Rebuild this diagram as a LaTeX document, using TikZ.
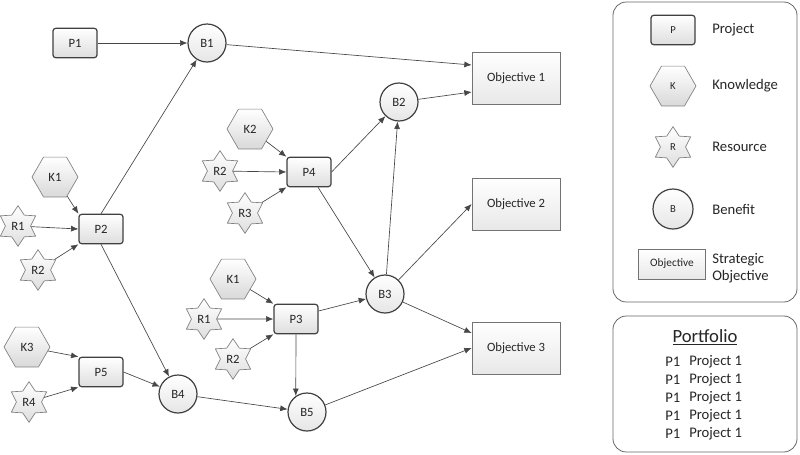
\documentclass[tikz,border=0pt]{standalone}
\usepackage{fontspec}
\setmainfont{Carlito}
\usetikzlibrary{shapes.geometric,arrows.meta,calc}
\tikzset{
  base/.style={inner sep=0pt, font=\fontsize{9.5}{11}\selectfont, text=black!85},
  proj/.style={base, rectangle, rounded corners=2pt, draw=black!75, line width=0.9pt,
    top color=white, bottom color=black!13, minimum width=33pt, minimum height=22pt},
  ben/.style={base, circle, draw=black!75, line width=0.9pt,
    top color=white, bottom color=black!10, minimum size=28.5pt},
  know/.style={base, regular polygon, regular polygon sides=6, draw=black!50, line width=0.5pt,
    top color=white, bottom color=black!15, minimum size=34.5pt},
  res/.style={base, star, star points=6, star point ratio=1.62, draw=black!50, line width=0.5pt,
    top color=white, bottom color=black!13, minimum size=30.5pt},
  obj/.style={base, rectangle, draw=black!55, line width=0.5pt,
    top color=white, bottom color=black!9, minimum width=66pt, minimum height=39pt},
  arr/.style={draw=black!72, line width=0.5pt, -{Latex[length=5.5pt,width=4.5pt]}},
  legtxt/.style={inner sep=0pt, anchor=west, font=\fontsize{11}{12.75}\selectfont, text=black!85, align=left},
  legbox/.style={draw=black!60, line width=0.6pt, rounded corners=10pt, fill=white}
}
\begin{document}
\begin{tikzpicture}[x=0.75pt, y=-0.75pt]
\useasboundingbox (0,0) rectangle (800,454);

% legend boxes
\node[legbox, minimum width=138pt, minimum height=225pt] (leg) at (705,152) {};
\node[legbox, minimum width=138pt, minimum height=102pt] (port) at (705,384) {};

% main nodes
\node[proj] (P1) at (75,43) {P1};
\node[ben] (B1) at (207,43) {B1};
\node[obj] (O1) at (516,78) {Objective 1};
\node[obj] (O2) at (516,204) {Objective 2};
\node[obj] (O3) at (516,348) {Objective 3};
\node[ben] (B2) at (399,102) {B2};
\node[ben] (B3) at (385,294) {B3};
\node[ben] (B4) at (178,394) {B4};
\node[ben] (B5) at (307,412) {B5};

\node[know] (K2) at (250,129) {K2};
\node[res] (R2b) at (220,171) {R2};
\node[res] (R3) at (245,213) {R3};
\node[proj] (P4) at (309,172) {P4};

\node[know] (K1a) at (55,177) {K1};
\node[res] (R1a) at (18,226) {R1};
\node[res] (R2a) at (38,270) {R2};
\node[proj] (P2) at (101,229) {P2};

\node[know] (K3) at (27,347) {K3};
\node[res] (R4) at (29,402) {R4};
\node[proj] (P5) at (101,372) {P5};

\node[know] (K1b) at (233,279) {K1};
\node[res] (R1b) at (204,319) {R1};
\node[res] (R2c) at (233,359) {R2};
\node[proj] (P3) at (296,319) {P3};

% connectors
\draw[arr] (P1) -- (B1);
\draw[arr] (B1) -- ($(O1.west)+(0,-13)$);
\draw[arr] (P2.north) -- (B1);
\draw[arr] (K1a) -- (P2.north west);
\draw[arr] (R1a) -- (P2.west);
\draw[arr] (R2a) -- (P2.south west);
\draw[arr] (P2.south) -- (B4);
\draw[arr] (K3) -- (P5.north west);
\draw[arr] (R4) -- (P5.south west);
\draw[arr] (P5.east) -- (B4);
\draw[arr] (B4) -- (B5);
\draw[arr] (K2) -- (P4.north west);
\draw[arr] (R2b) -- (P4.west);
\draw[arr] (R3) -- (P4.south west);
\draw[arr] (P4.east) -- (B2);
\draw[arr] ($(P4.south)+(9,0)$) -- (B3);
\draw[arr] (B3) -- (B2);
\draw[arr] (B2) -- ($(O1.west)+(0,14)$);
\draw[arr] (B3) -- (O2.west);
\draw[arr] (B3) -- ($(O3.west)+(0,-15)$);
\draw[arr] (B5) -- (O3.west);
\draw[arr] (K1b) -- (P3.north west);
\draw[arr] (R1b) -- (P3.west);
\draw[arr] (R2c) -- (P3.south west);
\draw[arr] ($(P3.east)+(0,-8)$) -- (B3);
\draw[arr] (P3.south) -- (B5.125);

% legend
\node[proj, font=\fontsize{8}{10}\selectfont] (lP) at (673,30) {P};
\node[know, font=\fontsize{8}{10}\selectfont] (lK) at (673,86) {K};
\node[res, font=\fontsize{8}{10}\selectfont] (lR) at (673,147) {R};
\node[ben, minimum size=30pt, font=\fontsize{8}{10}\selectfont] (lB) at (673,209) {B};
\node[obj, minimum width=50pt, minimum height=22.5pt, font=\fontsize{8.5}{10}\selectfont] (lO) at (672,264) {Objective};
\node[legtxt] (tP) at (712,30) {Project};
\node[legtxt] (tK) at (712,86) {Knowledge};
\node[legtxt] (tR) at (712,147) {Resource};
\node[legtxt] (tB) at (712,209) {Benefit};
\node[legtxt] (tO) at (712,268) {Strategic\\Objective};

% portfolio
\node[inner sep=0pt, font=\fontsize{14}{16}\selectfont, text=black!85] (ptitle) at (705,337) {\underline{Portfolio}};
\foreach \i in {0,1,2,3,4} {
  \node[legtxt] (pa\i) at (665,{362+18*\i}) {P1};
  \node[legtxt] (pb\i) at (689,{362+18*\i}) {Project 1};
}
\end{tikzpicture}
\end{document}
